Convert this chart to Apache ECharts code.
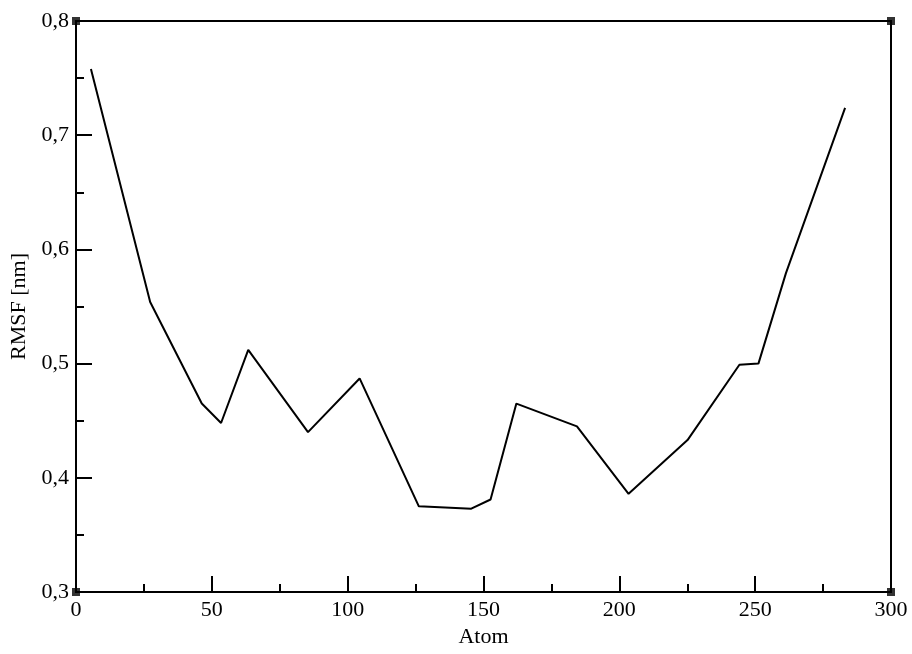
<!DOCTYPE html>
<html>
<head>
<meta charset="utf-8">
<script src="https://cdn.jsdelivr.net/npm/echarts@6/dist/echarts.min.js"></script>
<style>
html,body{margin:0;padding:0;background:#fff;}
#chart{width:912px;height:654px;}
</style>
</head>
<body>
<div id="chart"></div>
<script>
const atomIndex = [5.5, 27.3, 46.3, 53.4, 63.4, 85.4, 104.4, 126.2, 145.5, 152.6, 162.1, 184.4, 203.4, 225.1, 244.2, 251.2, 261.3, 283.1];
const rmsfValues = [0.758, 0.554, 0.465, 0.448, 0.512, 0.440, 0.487, 0.375, 0.373, 0.381, 0.465, 0.445, 0.386, 0.433, 0.499, 0.500, 0.579, 0.724];
const xRange = [0, 300];
const yRange = [0.3, 0.8];
const xTitle = 'Atom';
const yTitle = 'RMSF [nm]';

const lineData = atomIndex.map((x, i) => [x, rmsfValues[i]]);
const cornerData = [[xRange[0], yRange[0]], [xRange[1], yRange[0]], [xRange[0], yRange[1]], [xRange[1], yRange[1]]];

const font = 'Liberation Serif';
const chart = echarts.init(document.getElementById('chart'), null, {renderer: 'canvas'});
chart.setOption({
  animation: false,
  backgroundColor: '#fff',
  grid: {left: 75, right: 21, top: 21, bottom: 62, show: true, borderColor: '#000', borderWidth: 2, containLabel: false},
  xAxis: {
    type: 'value', min: xRange[0], max: xRange[1], interval: 50,
    name: xTitle, nameLocation: 'middle', nameGap: 29,
    nameTextStyle: {fontFamily: font, fontSize: 22, color: '#000'},
    axisLine: {show: true, lineStyle: {color: '#000', width: 2}},
    axisTick: {show: true, inside: true, length: 16, lineStyle: {color: '#000', width: 2}},
    minorTick: {show: true, splitNumber: 2, length: 8, lineStyle: {color: '#000', width: 2}},
    splitLine: {show: false},
    axisLabel: {fontFamily: font, fontSize: 22, color: '#000', margin: 7}
  },
  yAxis: {
    type: 'value', min: yRange[0], max: yRange[1], interval: 0.1,
    name: yTitle, nameLocation: 'middle', nameGap: 46,
    nameTextStyle: {fontFamily: font, fontSize: 22, color: '#000'},
    axisLine: {show: true, lineStyle: {color: '#000', width: 2}},
    axisTick: {show: true, inside: true, length: 16, lineStyle: {color: '#000', width: 2}},
    minorTick: {show: true, splitNumber: 2, length: 8, lineStyle: {color: '#000', width: 2}},
    splitLine: {show: false},
    axisLabel: {fontFamily: font, fontSize: 22, color: '#000', margin: 7,
      formatter: v => v.toFixed(1).replace('.', ',')}
  },
  series: [
    {
      type: 'line', data: lineData, showSymbol: false, symbol: 'none',
      lineStyle: {color: '#000', width: 2}, silent: true
    },
    {
      type: 'scatter', data: cornerData, symbol: 'rect', symbolSize: 8,
      itemStyle: {color: '#000'}, clip: false, silent: true
    }
  ]
});
</script>
</body>
</html>
